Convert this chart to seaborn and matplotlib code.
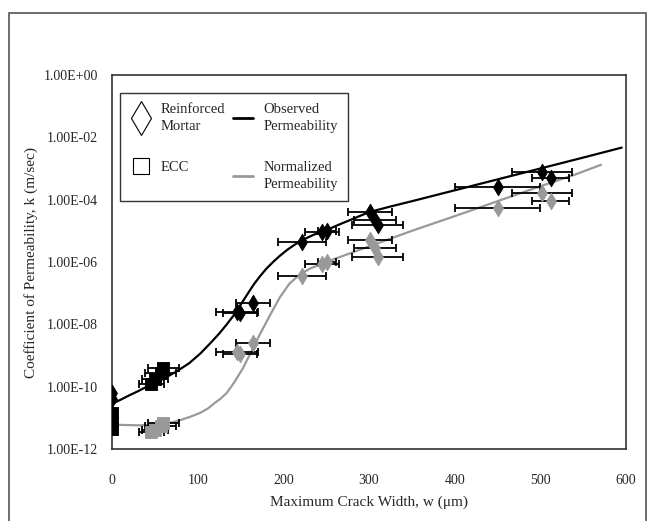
import numpy as np
import pandas as pd
import matplotlib
matplotlib.use("Agg")
import matplotlib.pyplot as plt
import seaborn as sns
from matplotlib.lines import Line2D
from matplotlib.patches import Rectangle

sns.set_style("white")
plt.rcParams["font.family"] = ["Liberation Serif", "DejaVu Serif"]

# ---- data (log10 of permeability k, m/s) ----
rm_w = [0, 0, 146, 149, 165, 222, 245, 251, 301, 307, 310, 450, 502, 512]
rm_obs_log = [-10.19, -10.39, -7.62, -7.65, -7.33, -5.37, -5.05, -5.0, -4.4, -4.66, -4.82, -3.6, -3.12, -3.31]
rm_w_err = [0, 0, 25, 20, 20, 28, 20, 11, 26, 24, 30, 50, 35, 22]
rm_norm_w = [146, 149, 165, 222, 245, 251, 301, 307, 310, 450, 502, 512]
rm_norm_log = [-8.9, -8.95, -8.6, -6.46, -6.08, -6.0, -5.3, -5.56, -5.85, -4.28, -3.8, -4.05]
rm_norm_err = [25, 20, 20, 28, 20, 11, 26, 24, 30, 50, 35, 22]

ecc_w = [0, 0, 0, 46, 50, 57, 60]
ecc_obs_log = [-10.85, -11.1, -11.35, -9.9, -9.75, -9.55, -9.4]
ecc_w_err = [0, 0, 0, 15, 15, 18, 18]
ecc_norm_w = [46, 50, 57, 60]
ecc_norm_log = [-11.45, -11.4, -11.25, -11.15]
ecc_norm_err = [15, 15, 18, 18]

obs_curve_w = [0, 10, 20, 30, 44, 60, 76, 90, 103, 115, 125, 134, 141, 147, 153, 160, 166, 173, 180,
               188, 196, 205, 213, 222, 235, 250, 265, 280, 300, 325, 350, 400, 450, 500, 550, 595]
obs_curve_log = [-10.55, -10.42, -10.28, -10.15, -9.95, -9.75, -9.5, -9.25, -8.94, -8.6, -8.3, -8.0,
                 -7.75, -7.5, -7.25, -6.95, -6.7, -6.45, -6.22, -6.0, -5.8, -5.6, -5.45, -5.3, -5.13,
                 -4.98, -4.8, -4.63, -4.4, -4.22, -4.05, -3.7, -3.35, -3.0, -2.65, -2.33]
norm_curve_w = [0, 30, 50, 65, 80, 92, 103, 112, 120, 127, 134, 143, 153, 163, 173, 185, 196, 207,
                219, 232, 246, 260, 275, 300, 350, 400, 450, 500, 540, 571]
norm_curve_log = [-11.22, -11.24, -11.23, -11.18, -11.07, -10.96, -10.84, -10.7, -10.52, -10.38,
                  -10.2, -9.85, -9.4, -8.85, -8.3, -7.68, -7.13, -6.7, -6.4, -6.2, -6.05, -5.9,
                  -5.75, -5.5, -5.0, -4.53, -4.05, -3.57, -3.2, -2.88]

x_ticks = [0, 100, 200, 300, 400, 500, 600]
y_tick_exps = [0, -2, -4, -6, -8, -10, -12]

BLACK = "#000000"
GRAY = "#999999"

fig = plt.figure(figsize=(6.54, 5.21), dpi=100)
ax = fig.add_axes([112 / 654, 1 - 449 / 521, 514 / 654, 374 / 521])

def k(vals):
    return 10.0 ** np.asarray(vals, dtype=float)

# curves
sns.lineplot(x=obs_curve_w, y=k(obs_curve_log), color=BLACK, lw=1.6, ax=ax, sort=False, zorder=2)
sns.lineplot(x=norm_curve_w, y=k(norm_curve_log), color=GRAY, lw=1.6, ax=ax, sort=False, zorder=2)

# error bars
err_kw = dict(fmt="none", ecolor=BLACK, elinewidth=1.3, capsize=3, capthick=1.3, zorder=3)
ax.errorbar(rm_w, k(rm_obs_log), xerr=rm_w_err, **err_kw)
ax.errorbar(rm_norm_w, k(rm_norm_log), xerr=rm_norm_err, **err_kw)
ax.errorbar(ecc_w, k(ecc_obs_log), xerr=ecc_w_err, **err_kw)
ax.errorbar(ecc_norm_w, k(ecc_norm_log), xerr=ecc_norm_err, **err_kw)

# markers
sns.scatterplot(x=rm_w, y=k(rm_obs_log), marker="d", s=70, color=BLACK, edgecolor=BLACK, ax=ax, zorder=4)
sns.scatterplot(x=rm_norm_w, y=k(rm_norm_log), marker="d", s=70, color=GRAY, edgecolor=GRAY, ax=ax, zorder=4)
sns.scatterplot(x=ecc_w, y=k(ecc_obs_log), marker="s", s=65, color=BLACK, edgecolor=BLACK, ax=ax, zorder=4)
sns.scatterplot(x=ecc_norm_w, y=k(ecc_norm_log), marker="s", s=65, color=GRAY, edgecolor=GRAY, ax=ax, zorder=4)

ax.set_yscale("log")
ax.set_xlim(0, 600)
ax.set_ylim(1e-12, 1e0)
ax.set_xticks(x_ticks)
ax.set_xticklabels([str(t) for t in x_ticks], fontsize=10)
ax.set_yticks([10.0 ** e for e in y_tick_exps])
ax.set_yticklabels(["1.00E+00" if e == 0 else "1.00E%03d" % e for e in y_tick_exps], fontsize=10)
ax.minorticks_off()
ax.tick_params(axis="both", direction="out", length=4, width=1, color="#333333", pad=6)
ax.tick_params(axis="x", pad=14)
for sp in ax.spines.values():
    sp.set_color("#333333")
    sp.set_linewidth(1.2)

ax.set_xlabel("Maximum Crack Width, w (\u03bcm)", fontsize=11, labelpad=6)
ax.set_ylabel("Coefficient of Permeability, k (m/sec)", fontsize=11, labelpad=4)

handles = [
    Line2D([], [], ls="none", marker="d", markersize=17, markerfacecolor="white", markeredgecolor=BLACK, markeredgewidth=0.8),
    Line2D([], [], ls="none", marker="s", markersize=11, markerfacecolor="white", markeredgecolor=BLACK, markeredgewidth=0.8),
    Line2D([], [], color=BLACK, lw=2),
    Line2D([], [], color=GRAY, lw=2),
]
labels = ["Reinforced\nMortar", "ECC", "Observed\nPermeability", "Normalized\nPermeability"]
leg = ax.legend(handles, labels, ncol=2, loc="upper left", bbox_to_anchor=(0.016, 0.952),
                borderaxespad=0, frameon=True, fancybox=False, fontsize=10.5,
                handlelength=1.4, columnspacing=0.5, labelspacing=1.9, handletextpad=0.7,
                borderpad=0.7)
for t in leg.get_texts():
    t.set_linespacing(1.4)
leg.get_frame().set_edgecolor(BLACK)
leg.get_frame().set_linewidth(1.0)

# outer border frame
fig.patches.append(Rectangle((9 / 654, -0.01), 637 / 654, 1 - 13 / 521 + 0.01,
                             transform=fig.transFigure, fill=False, edgecolor="#555555", lw=1.2))

fig.savefig("out.png", dpi=100)
